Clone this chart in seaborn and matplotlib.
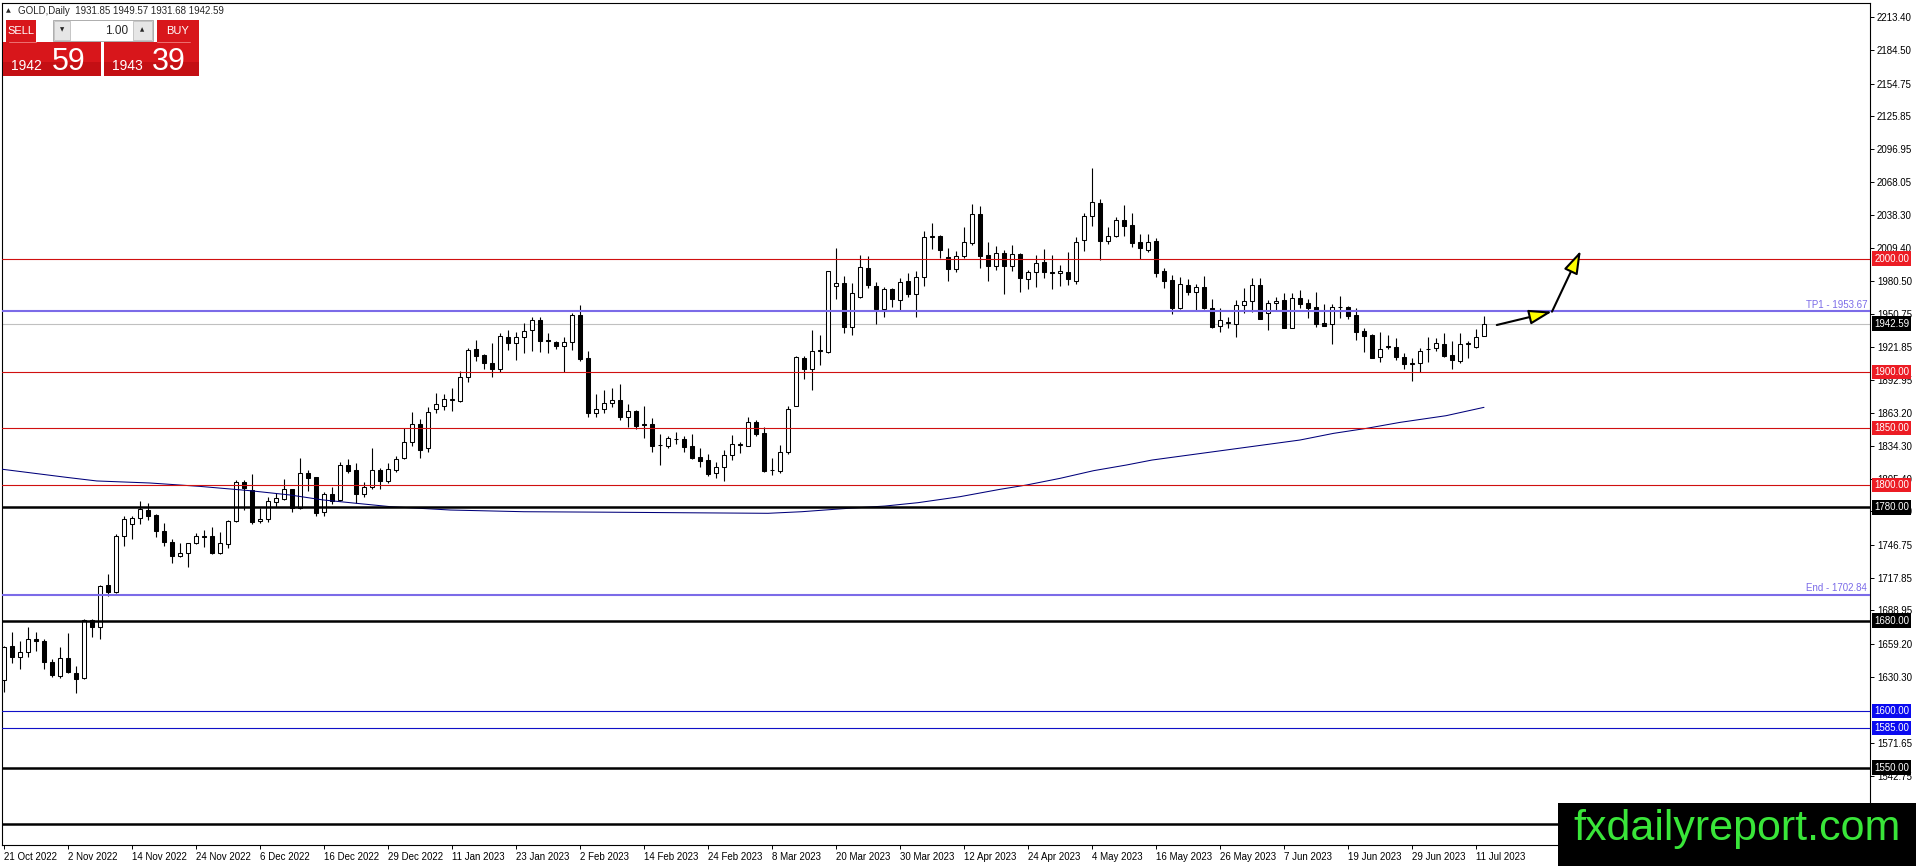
import numpy as np
import matplotlib
matplotlib.use("Agg")
import matplotlib.pyplot as plt
from matplotlib.patches import Rectangle
import seaborn as sns

# GOLD daily candles, 21 Oct 2022 .. 12 Jul 2023
opens = [1627.4, 1657.4, 1648.0, 1651.8, 1663.3, 1662.2, 1643.0, 1631.0, 1646.5, 1633.3,
         1628.9, 1680.4, 1674.0, 1711.4, 1704.9, 1754.7, 1765.0, 1770.3, 1777.7, 1773.3,
         1759.4, 1749.7, 1737.0, 1739.4, 1748.2, 1754.7, 1754.7, 1740.0, 1747.7, 1768.0,
         1802.5, 1795.4, 1768.0, 1769.5, 1785.1, 1787.5, 1796.0, 1779.2, 1810.1, 1806.6,
         1776.3, 1791.6, 1786.6, 1817.2, 1813.1, 1791.6, 1797.8, 1812.8, 1803.0, 1813.1,
         1824.0, 1838.1, 1853.5, 1832.2, 1866.7, 1869.9, 1875.3, 1874.4, 1895.6, 1919.8,
         1914.5, 1907.4, 1902.7, 1931.0, 1925.7, 1930.4, 1936.9, 1945.7, 1927.7, 1926.6,
         1922.7, 1926.6, 1950.1, 1911.8, 1863.8, 1866.7, 1872.0, 1875.0, 1860.2, 1865.2,
         1853.5, 1853.5, 1834.9, 1834.6, 1840.2, 1840.2, 1834.3, 1824.3, 1821.6, 1810.1,
         1816.0, 1826.0, 1835.2, 1834.6, 1855.2, 1845.5, 1812.8, 1812.5, 1829.3, 1870.0,
         1911.8, 1902.4, 1918.6, 1917.7, 1976.1, 1978.7, 1939.8, 1966.4, 1991.4, 1975.8,
         1955.1, 1972.8, 1963.4, 1979.9, 1968.4, 1983.5, 2019.4, 2020.0, 2001.1, 1990.8,
         2002.3, 2014.1, 2039.2, 2003.2, 1993.8, 2004.7, 1993.8, 2004.1, 1981.7, 1988.5,
         1996.7, 1988.5, 1987.0, 1988.5, 1980.5, 2016.5, 2037.7, 2048.9, 2015.9, 2020.3,
         2034.2, 2029.7, 2014.4, 2007.6, 2015.6, 1989.1, 1981.1, 1956.6, 1976.7, 1970.8,
         1974.9, 1956.0, 1940.4, 1943.1, 1941.9, 1959.0, 1962.5, 1976.7, 1951.6, 1960.5,
         1963.4, 1938.9, 1964.9, 1960.5, 1957.2, 1942.8, 1941.9, 1956.9, 1957.5, 1950.1,
         1936.0, 1932.5, 1912.7, 1921.8, 1922.1, 1912.7, 1907.1, 1907.4, 1919.8, 1920.7,
         1924.2, 1914.8, 1909.8, 1924.5, 1922.2, 1931.85]
highs = [1657.5, 1669.8, 1662.2, 1673.9, 1669.8, 1663.3, 1645.7, 1656.3, 1669.2, 1639.8,
         1681.0, 1681.3, 1711.4, 1721.1, 1756.2, 1772.4, 1772.4, 1785.7, 1784.2, 1773.9,
         1766.5, 1751.8, 1748.2, 1748.8, 1757.7, 1760.0, 1763.0, 1758.0, 1768.9, 1804.3,
         1804.3, 1809.6, 1779.2, 1789.5, 1792.5, 1805.1, 1796.6, 1823.4, 1813.1, 1807.2,
         1793.3, 1797.8, 1820.5, 1822.5, 1819.0, 1802.2, 1832.3, 1814.6, 1819.0, 1825.7,
         1849.9, 1864.1, 1858.2, 1868.5, 1880.9, 1880.3, 1885.3, 1900.9, 1921.2, 1928.0,
         1915.4, 1925.7, 1934.5, 1936.9, 1934.8, 1942.8, 1948.7, 1948.7, 1934.5, 1927.4,
         1930.4, 1952.2, 1959.0, 1918.3, 1880.3, 1883.8, 1885.3, 1888.8, 1871.1, 1866.1,
         1869.7, 1859.4, 1844.9, 1843.4, 1846.4, 1843.4, 1844.6, 1832.8, 1826.9, 1819.9,
         1830.8, 1844.0, 1838.1, 1860.2, 1857.3, 1851.4, 1823.4, 1835.2, 1869.7, 1913.9,
         1913.9, 1936.9, 1932.4, 1989.3, 2009.7, 1984.6, 1978.1, 2003.2, 2002.3, 1979.6,
         1975.2, 1974.3, 1983.2, 1987.0, 1989.3, 2024.7, 2031.8, 2020.9, 2009.1, 2006.7,
         2028.3, 2048.3, 2046.5, 2014.4, 2011.2, 2007.6, 2012.0, 2005.3, 1989.9, 2003.2,
         2008.5, 2003.2, 1994.4, 2005.6, 2018.8, 2040.0, 2079.8, 2052.4, 2028.3, 2036.5,
         2047.4, 2040.0, 2021.8, 2021.8, 2017.9, 1992.0, 1985.5, 1984.0, 1982.0, 1977.3,
         1984.6, 1964.3, 1956.0, 1948.7, 1963.4, 1973.7, 1983.2, 1983.2, 1963.4, 1966.4,
         1969.3, 1969.3, 1971.9, 1964.3, 1970.8, 1959.6, 1959.6, 1967.0, 1958.1, 1956.0,
         1938.3, 1933.0, 1935.4, 1932.5, 1929.5, 1916.2, 1911.8, 1921.3, 1930.4, 1929.5,
         1933.9, 1927.5, 1934.5, 1927.5, 1937.5, 1949.57]
lows = [1617.1, 1642.7, 1636.8, 1647.4, 1653.3, 1636.8, 1630.3, 1628.9, 1633.3, 1615.6,
        1628.3, 1665.7, 1663.3, 1701.7, 1704.0, 1745.9, 1751.8, 1765.3, 1768.9, 1753.5,
        1745.9, 1731.1, 1735.9, 1727.0, 1747.6, 1744.7, 1738.8, 1738.8, 1743.8, 1767.4,
        1777.7, 1765.3, 1765.9, 1767.4, 1780.7, 1786.6, 1776.3, 1778.3, 1794.8, 1772.7,
        1772.7, 1782.7, 1786.0, 1810.7, 1783.6, 1789.5, 1796.0, 1796.0, 1801.9, 1811.6,
        1822.8, 1834.6, 1824.0, 1829.3, 1863.8, 1866.1, 1865.5, 1873.5, 1891.2, 1909.8,
        1902.4, 1895.0, 1900.0, 1919.2, 1910.4, 1916.2, 1918.6, 1917.7, 1916.2, 1919.8,
        1900.0, 1919.2, 1909.8, 1860.2, 1859.6, 1863.2, 1868.5, 1857.3, 1851.4, 1849.0,
        1841.7, 1829.3, 1817.5, 1832.2, 1836.1, 1829.3, 1822.5, 1816.0, 1808.1, 1805.7,
        1803.6, 1821.9, 1828.4, 1834.3, 1843.1, 1811.6, 1808.6, 1810.7, 1826.9, 1869.7,
        1893.5, 1883.8, 1905.9, 1916.2, 1964.3, 1933.9, 1932.4, 1964.9, 1974.3, 1942.2,
        1948.0, 1957.5, 1954.5, 1965.8, 1948.6, 1976.1, 2008.5, 2000.3, 1980.5, 1987.9,
        2000.3, 2012.0, 1991.4, 1980.5, 1989.9, 1968.4, 1989.3, 1970.8, 1972.8, 1975.2,
        1982.6, 1972.8, 1975.8, 1976.7, 1977.6, 2007.0, 2029.1, 1998.8, 2012.9, 2018.8,
        2020.0, 2010.6, 1999.4, 2006.1, 1984.0, 1973.7, 1950.7, 1955.2, 1967.8, 1954.6,
        1955.4, 1938.3, 1935.4, 1938.9, 1931.0, 1952.2, 1952.5, 1946.3, 1936.9, 1954.6,
        1938.6, 1938.6, 1956.0, 1947.8, 1939.2, 1940.4, 1924.2, 1947.2, 1946.6, 1928.0,
        1917.7, 1911.8, 1908.9, 1920.1, 1910.4, 1902.1, 1892.1, 1900.0, 1908.3, 1918.3,
        1913.3, 1902.1, 1908.0, 1911.8, 1920.7, 1931.68]
closes = [1656.3, 1648.0, 1651.8, 1663.3, 1662.2, 1643.6, 1631.8, 1646.5, 1634.2, 1628.0,
          1680.4, 1674.0, 1710.8, 1705.5, 1754.7, 1770.1, 1770.3, 1778.3, 1772.7, 1759.4,
          1749.7, 1737.0, 1739.4, 1748.2, 1754.7, 1753.6, 1740.0, 1748.3, 1768.0, 1802.8,
          1796.9, 1767.4, 1769.8, 1785.7, 1788.0, 1796.0, 1779.2, 1810.1, 1806.3, 1775.4,
          1791.6, 1785.7, 1817.2, 1812.5, 1791.6, 1797.8, 1812.8, 1803.4, 1813.7, 1822.5,
          1838.1, 1853.5, 1830.7, 1864.7, 1871.1, 1875.6, 1875.9, 1895.6, 1919.2, 1914.2,
          1907.4, 1902.7, 1931.6, 1925.1, 1930.4, 1936.3, 1945.7, 1927.4, 1927.1, 1922.7,
          1926.6, 1950.1, 1911.2, 1863.8, 1866.7, 1872.0, 1875.0, 1860.2, 1865.2, 1852.0,
          1852.9, 1834.6, 1835.5, 1841.1, 1840.8, 1833.7, 1824.0, 1821.3, 1809.5, 1816.0,
          1826.3, 1835.8, 1835.8, 1855.2, 1844.9, 1812.2, 1813.3, 1829.3, 1866.7, 1912.7,
          1902.4, 1918.3, 1919.2, 1989.0, 1978.4, 1939.2, 1969.3, 1992.9, 1976.7, 1955.4,
          1972.8, 1964.0, 1979.6, 1968.4, 1983.5, 2019.4, 2020.0, 2007.6, 1990.5, 2002.3,
          2014.4, 2039.2, 2002.6, 1993.8, 2004.7, 1993.8, 2003.8, 1982.6, 1987.9, 1996.4,
          1988.5, 1987.0, 1988.8, 1981.7, 2015.0, 2038.0, 2049.8, 2015.9, 2020.3, 2034.2,
          2029.1, 2014.1, 2009.7, 2015.0, 1987.6, 1980.5, 1956.6, 1977.3, 1970.8, 1974.9,
          1956.0, 1939.8, 1945.7, 1943.7, 1959.0, 1962.5, 1976.7, 1946.6, 1960.5, 1962.2,
          1938.9, 1964.9, 1959.9, 1956.6, 1942.2, 1940.7, 1957.5, 1957.5, 1949.6, 1935.4,
          1931.9, 1912.4, 1919.8, 1922.4, 1912.7, 1906.5, 1907.7, 1918.6, 1920.4, 1925.1,
          1913.9, 1910.3, 1924.5, 1925.4, 1931.0, 1942.59]

# every 8th bar gets a date label
date_labels = ["21 Oct 2022", "2 Nov 2022", "14 Nov 2022", "24 Nov 2022", "6 Dec 2022",
               "16 Dec 2022", "29 Dec 2022", "11 Jan 2023", "23 Jan 2023", "2 Feb 2023",
               "14 Feb 2023", "24 Feb 2023", "8 Mar 2023", "20 Mar 2023", "30 Mar 2023",
               "12 Apr 2023", "24 Apr 2023", "4 May 2023", "16 May 2023", "26 May 2023",
               "7 Jun 2023", "19 Jun 2023", "29 Jun 2023", "11 Jul 2023"]

price_ticks = [2213.40, 2184.50, 2154.75, 2125.85, 2096.95, 2068.05, 2038.30, 2009.40,
               1980.50, 1950.75, 1921.85, 1892.95, 1863.20, 1834.30, 1805.40, 1776.50,
               1746.75, 1717.85, 1688.95, 1659.20, 1630.30, 1571.65, 1542.75]

# moving average (bar index, value) read at points along the blue curve
ma_bars = [-0.5, 7.8, 11.6, 18.25, 24.5, 30.75, 35.75, 39.9, 44.1, 48.25, 55.8, 65, 75,
           85, 95.5, 99.7, 105.5, 110.1, 114.25, 119.5, 124.5, 127.8, 132, 136.2, 140.3,
           143.5, 162, 166.2, 170.3, 174.5, 180.25, 185]
ma_values = [1814.0, 1806.6, 1803.4, 1801.6, 1798.6, 1794.8, 1791.0, 1786.6, 1783.6,
             1780.7, 1777.7, 1776.2, 1775.8, 1775.3, 1774.8, 1776.2, 1779.2, 1781.2,
             1784.2, 1789.5, 1796.0, 1799.8, 1805.7, 1812.5, 1817.5, 1821.9, 1839.6,
             1845.5, 1849.9, 1855.2, 1861.1, 1868.5]

red_levels = [2000.00, 1900.00, 1850.00, 1800.00]
black_levels = [1780.00, 1680.00, 1550.00, 1500.00]
blue_levels = [1600.00, 1585.00]
fibo_names = ["TP1", "End"]
fibo_prices = [1953.67, 1702.84]
bid_price = 1942.59
ask_price = 1943.39
header_ohlc = [1931.85, 1949.57, 1931.68, 1942.59]

# forecast arrows: start, bend, target
arrow_bars = [186.6, 193.5, 197.1]
arrow_prices = [1941.3, 1953.1, 2007.0]

W, H = 1916, 866

sns.set_style("white")
plt.rcParams['font.family'] = ['Liberation Sans', 'DejaVu Sans']

fig = plt.figure(figsize=(W / 100, H / 100), dpi=100)
fig.patch.set_facecolor("white")
ax = fig.add_axes([2 / W, 1 - 845 / H, 1868 / W, 842.3 / H])

o = np.array(opens)
hi = np.array(highs)
lo = np.array(lows)
c = np.array(closes)
idx = np.arange(len(o))

# candles
ax.vlines(idx, lo, hi, color="black", lw=0.8, zorder=3)
up = c >= o
body_h = np.maximum(np.abs(c - o), 0.35)
ax.bar(idx, body_h, bottom=np.minimum(o, c), width=0.5,
       color=np.where(up, "white", "black"), edgecolor="black", lw=0.75, zorder=4)

# moving average
sns.lineplot(x=ma_bars, y=ma_values, color="#00007a", lw=0.75, ax=ax, zorder=5)

# horizontal levels
for p in red_levels:
    ax.axhline(p, color="#d01010", lw=0.8, zorder=5)
for p in black_levels:
    ax.axhline(p, color="black", lw=1.8, zorder=5)
for p in blue_levels:
    ax.axhline(p, color="#1010c8", lw=0.8, zorder=5)
for name, p in zip(fibo_names, fibo_prices):
    ax.axhline(p, color="#7b6be8", lw=1.5, zorder=5)
    ax.text(0.9985, p + 1.2, f"{name} - {p:.2f}", transform=ax.get_yaxis_transform(),
            ha="right", va="bottom", fontsize=7, color="#7b6be8", zorder=6)
ax.axhline(bid_price, color="#c0c0c0", lw=0.8, zorder=2)

# arrows
for i in range(2):
    ax.annotate("", xy=(arrow_bars[i + 1], arrow_prices[i + 1]),
                xytext=(arrow_bars[i], arrow_prices[i]),
                arrowprops=dict(arrowstyle="-|>,head_length=1.4,head_width=0.45",
                                fc="#ffff00", ec="black", lw=1.5,
                                shrinkA=0, shrinkB=0), zorder=7)

ax.set_xlim(-0.25, 233.25)
ax.set_ylim(1481.5, 2226.3)

# price axis on the right
ax.yaxis.tick_right()
ax.set_yticks(price_ticks)
ax.set_yticklabels([f"{v:.2f}" for v in price_ticks])
ax.tick_params(axis="y", direction="out", length=3, width=0.7, pad=2,
               labelsize=7, colors="black", right=True, left=False)

ax.set_xticks(np.arange(0, len(date_labels) * 8, 8))
ax.set_xticklabels(date_labels)
ax.tick_params(axis="x", direction="out", length=3, width=0.7, pad=2,
               labelsize=7, colors="black", bottom=True)
for t in ax.get_xticklabels():
    t.set_ha("left")

for s in ax.spines.values():
    s.set_visible(True)
    s.set_color("black")
    s.set_linewidth(0.8)
ax.grid(False)


def price_box(p, fc):
    ax.text(1.0022, p, f"{p:.2f}", transform=ax.get_yaxis_transform(),
            ha="left", va="center", fontsize=7, color="white", zorder=8,
            clip_on=False, bbox=dict(boxstyle="square,pad=0.22", fc=fc, ec="none"))


for p in red_levels:
    price_box(p, "#ec1c24")
for p in black_levels[:3]:
    price_box(p, "black")
for p in blue_levels:
    price_box(p, "#0a0af0")
price_box(bid_price, "black")


# header + one-click trading panel (pixel coordinates of the terminal)
def fx(x):
    return x / W


def fy(y):
    return 1 - y / H


def rect(x0, y0, x1, y1, fc, ec="none", lw=0.0):
    fig.add_artist(Rectangle((fx(x0), fy(y1)), (x1 - x0) / W, (y1 - y0) / H,
                             transform=fig.transFigure, fc=fc, ec=ec, lw=lw, zorder=10))


fig.text(fx(6), fy(11), "▲", fontsize=4.5, va="center", ha="left",
         family=["DejaVu Sans"], zorder=11)
fig.text(fx(18), fy(11), "GOLD,Daily  " + " ".join(f"{v:.2f}" for v in header_ohlc),
         fontsize=7, va="center", ha="left", zorder=11)

red = "#d8161b"
rect(3, 42, 101, 76, red)
rect(3, 62, 101, 76, "#c40f14")
rect(6, 20, 36, 42, red)
rect(104, 42, 199, 76, red)
rect(104, 62, 199, 76, "#c40f14")
rect(157, 20, 199, 42, red)
fig.add_artist(plt.Line2D([fx(9), fx(36)], [fy(41.5), fy(41.5)], color="#f08080",
                          lw=0.6, transform=fig.transFigure, zorder=11))
fig.add_artist(plt.Line2D([fx(157), fx(190)], [fy(41.5), fy(41.5)], color="#f08080",
                          lw=0.6, transform=fig.transFigure, zorder=11))
rect(53, 20, 153, 41, "white", ec="#a0a0a0", lw=0.6)
rect(54, 21, 70, 40, "#e6e6e6", ec="#b4b4b4", lw=0.5)
rect(133, 21, 152, 40, "#e6e6e6", ec="#b4b4b4", lw=0.5)
fig.text(fx(62), fy(30), "▼", fontsize=4, ha="center", va="center",
         family=["DejaVu Sans"], zorder=11)
fig.text(fx(142.5), fy(30), "▲", fontsize=4, ha="center", va="center",
         family=["DejaVu Sans"], zorder=11)
fig.text(fx(128), fy(30.5), "1.00", fontsize=8.5, ha="right", va="center", zorder=11)
fig.text(fx(21), fy(31), "SELL", fontsize=8, color="white", ha="center", va="center",
         zorder=11)
fig.text(fx(178), fy(31), "BUY", fontsize=8, color="white", ha="center", va="center",
         zorder=11)

bid_txt = f"{bid_price:.2f}"
ask_txt = f"{ask_price:.2f}"
fig.text(fx(42), fy(70), bid_txt[:4], fontsize=10, color="white", ha="right",
         va="baseline", zorder=11)
fig.text(fx(52), fy(70), bid_txt[-2:], fontsize=22, color="white", ha="left",
         va="baseline", zorder=11)
fig.text(fx(143), fy(70), ask_txt[:4], fontsize=10, color="white", ha="right",
         va="baseline", zorder=11)
fig.text(fx(152), fy(70), ask_txt[-2:], fontsize=22, color="white", ha="left",
         va="baseline", zorder=11)

# watermark
rect(1558, 803, W, H, "black")
fig.text(fx(1737), fy(829), "fxdailyreport.com", fontsize=31, color="#39e639",
         ha="center", va="center", family=["Liberation Sans"], zorder=11)

fig.savefig("out.png", dpi=100, facecolor="white")
